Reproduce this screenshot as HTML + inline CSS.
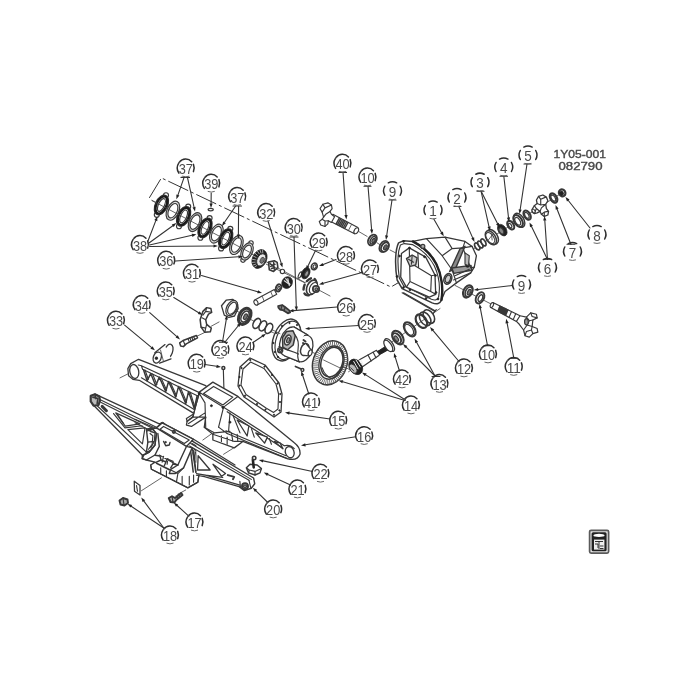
<!DOCTYPE html>
<html><head><meta charset="utf-8"><title>1Y05-001</title>
<style>
html,body{margin:0;padding:0;background:#fff;}
body{width:700px;height:700px;overflow:hidden;font-family:"Liberation Sans",sans-serif;}
svg{display:block;filter:blur(.35px)}
path,ellipse,circle,rect,line,polygon,polyline{vector-effect:non-scaling-stroke}
.p{fill:#fff;stroke:#383838;stroke-width:1.15;stroke-linejoin:round;stroke-linecap:round}
.n{fill:none;stroke:#383838;stroke-width:1.15;stroke-linejoin:round;stroke-linecap:round}
.t{fill:none;stroke:#4a4a4a;stroke-width:.85;stroke-linejoin:round;stroke-linecap:round}
.k{fill:none;stroke:#1a1a1a;stroke-width:2.2;stroke-linejoin:round;stroke-linecap:round}
.kk{fill:#fff;stroke:#1a1a1a;stroke-width:2.4}
.d{fill:#222;stroke:#222;stroke-width:.8}
.g{fill:#bbb;stroke:#444;stroke-width:.8}
.ld{fill:none;stroke:#333;stroke-width:1.1;stroke-linecap:round}
.ah{fill:#222;stroke:none}
.lc{fill:none;stroke:#666;stroke-width:1;stroke-linecap:round}
.lcd{fill:none;stroke:#2e2e2e;stroke-width:1.5;stroke-linecap:round}
.lt{font-family:"Liberation Sans",sans-serif;font-size:14.1px;fill:#4a4a4a;text-anchor:middle}
.hd{font-family:"Liberation Sans",sans-serif;font-size:11.8px;font-weight:normal;fill:#484848;stroke:#484848;stroke-width:.4;text-anchor:middle}
.dd{fill:none;stroke:#333;stroke-width:1;stroke-dasharray:22 3 3 3}
</style></head><body>
<svg width="700" height="700" viewBox="0 0 700 700">
<rect width="700" height="700" fill="#fff"/>
<g id="parts">
<path d="M149.3 197.9L161.4 177.9L391 287L399.5 282" class="dd" />
<path d="M152 200.5L330 296" class="t" />
<circle cx="156.8" cy="214.8" r="2.5" class="p"/>
<circle cx="166.0" cy="195.2" r="2.5" class="p"/>
<ellipse cx="161.4" cy="205.0" rx="6.2" ry="10.5" transform="rotate(25 161.4 205.0)" class="p" />
<ellipse cx="161.4" cy="205.0" rx="4.9" ry="9.2" transform="rotate(25 161.4 205.0)" class="kk" />
<ellipse cx="161.4" cy="205.0" rx="3.0000000000000004" ry="6.799999999999999" transform="rotate(25 161.4 205.0)" class="p" />
<ellipse cx="172.9" cy="210.7" rx="5.9" ry="10.1" transform="rotate(25 172.9 210.7)" class="p" style="fill:#ddd"/>
<ellipse cx="172.9" cy="210.7" rx="4.2" ry="7.699999999999999" transform="rotate(25 172.9 210.7)" class="p" />
<circle cx="179.0" cy="226.2" r="2.5" class="p"/>
<circle cx="188.2" cy="206.6" r="2.5" class="p"/>
<ellipse cx="183.6" cy="216.4" rx="6.2" ry="10.5" transform="rotate(25 183.6 216.4)" class="p" />
<ellipse cx="183.6" cy="216.4" rx="4.9" ry="9.2" transform="rotate(25 183.6 216.4)" class="kk" />
<ellipse cx="183.6" cy="216.4" rx="3.0000000000000004" ry="6.799999999999999" transform="rotate(25 183.6 216.4)" class="p" />
<ellipse cx="195.0" cy="222.1" rx="5.9" ry="10.1" transform="rotate(25 195.0 222.1)" class="p" style="fill:#bbb"/>
<ellipse cx="195.0" cy="222.1" rx="4.2" ry="7.699999999999999" transform="rotate(25 195.0 222.1)" class="p" />
<circle cx="200.4" cy="237.7" r="2.5" class="p"/>
<circle cx="209.6" cy="218.1" r="2.5" class="p"/>
<ellipse cx="205.0" cy="227.9" rx="6.2" ry="10.5" transform="rotate(25 205.0 227.9)" class="p" />
<ellipse cx="205.0" cy="227.9" rx="4.9" ry="9.2" transform="rotate(25 205.0 227.9)" class="kk" />
<ellipse cx="205.0" cy="227.9" rx="3.0000000000000004" ry="6.799999999999999" transform="rotate(25 205.0 227.9)" class="p" />
<ellipse cx="216.4" cy="233.6" rx="5.9" ry="10.1" transform="rotate(25 216.4 233.6)" class="p" style="fill:#ddd"/>
<ellipse cx="216.4" cy="233.6" rx="4.2" ry="7.699999999999999" transform="rotate(25 216.4 233.6)" class="p" />
<circle cx="221.1" cy="248.4" r="2.5" class="p"/>
<circle cx="230.3" cy="228.8" r="2.5" class="p"/>
<ellipse cx="225.7" cy="238.6" rx="6.2" ry="10.5" transform="rotate(25 225.7 238.6)" class="p" />
<ellipse cx="225.7" cy="238.6" rx="4.9" ry="9.2" transform="rotate(25 225.7 238.6)" class="kk" />
<ellipse cx="225.7" cy="238.6" rx="3.0000000000000004" ry="6.799999999999999" transform="rotate(25 225.7 238.6)" class="p" />
<ellipse cx="236.4" cy="245.0" rx="5.9" ry="10.1" transform="rotate(25 236.4 245.0)" class="p" style="fill:#ddd"/>
<ellipse cx="236.4" cy="245.0" rx="4.2" ry="7.699999999999999" transform="rotate(25 236.4 245.0)" class="p" />
<circle cx="243.0" cy="260.1" r="2.2" class="p"/>
<circle cx="251.0" cy="242.9" r="2.2" class="p"/>
<ellipse cx="247.0" cy="251.5" rx="5.4" ry="9.2" transform="rotate(25 247.0 251.5)" class="p" style="fill:#ddd"/>
<ellipse cx="247.0" cy="251.5" rx="3.7" ry="6.799999999999999" transform="rotate(25 247.0 251.5)" class="p" />
<ellipse cx="259.5" cy="259.0" rx="7.0" ry="9.8" transform="rotate(25 259.5 259.0)" class="d" />
<ellipse cx="261.3" cy="259.9" rx="4.2" ry="6.4" transform="rotate(25 261.3 259.9)" class="p" style="fill:#e8e8e8;stroke-width:1"/>
<ellipse cx="262.2" cy="260.3" rx="2.0" ry="3.2" transform="rotate(25 262.2 260.3)" class="p" style="fill:#777;stroke-width:.8"/>
<path d="M254.3 267.2L257.1 265.4" style="stroke:#ddd;stroke-width:.7;fill:none"/>
<path d="M252.7 265.2L256.1 264.0" style="stroke:#ddd;stroke-width:.7;fill:none"/>
<path d="M252.0 262.4L255.6 262.1" style="stroke:#ddd;stroke-width:.7;fill:none"/>
<path d="M252.1 259.3L255.8 259.9" style="stroke:#ddd;stroke-width:.7;fill:none"/>
<path d="M253.2 256.0L256.5 257.7" style="stroke:#ddd;stroke-width:.7;fill:none"/>
<path d="M255.0 253.2L257.8 255.6" style="stroke:#ddd;stroke-width:.7;fill:none"/>
<path d="M257.3 251.0L259.4 254.1" style="stroke:#ddd;stroke-width:.7;fill:none"/>
<path d="M259.9 249.8L261.1 253.2" style="stroke:#ddd;stroke-width:.7;fill:none"/>
<path d="M262.5 249.7L262.8 253.1" style="stroke:#ddd;stroke-width:.7;fill:none"/>
<ellipse cx="210.7" cy="209.6" rx="2.6" ry="1.3" transform="rotate(0 210.7 209.6)" class="p" />
<path d="M152 200.5L252 253.5" class="t" />
<g transform="translate(245 245) scale(0.14286)">
<path d="M150 135L420 265" class="t"/>
<path d="M165 120l40 -10l20 12l5 35l-30 28l-30 -12z" class="p" style="stroke-width:1.6"/>
<path d="M175 130l25 20M180 150l30 -15M185 165l25 -8M200 120l5 50" class="n" style="stroke-width:1.5"/>
<circle cx="262" cy="185" r="15" class="p"/>
<ellipse cx="385" cy="210" rx="9" ry="24" transform="rotate(25 385 210)" class="p"/>
<ellipse cx="425" cy="197" rx="27" ry="42" transform="rotate(25 425 197)" class="d"/>
<ellipse cx="432" cy="200" rx="12" ry="22" transform="rotate(25 432 200)" class="p" style="fill:#999"/>
<ellipse cx="485" cy="150" rx="20" ry="24" transform="rotate(25 485 150)" class="p" style="stroke-width:1.6"/>
<ellipse cx="487" cy="151" rx="10" ry="13" transform="rotate(25 487 151)" class="p"/>
<ellipse cx="455" cy="292" rx="40" ry="64" transform="rotate(25 455 292)" class="p" style="stroke-width:2.4;stroke-dasharray:5 4"/>
<ellipse cx="468" cy="297" rx="34" ry="54" transform="rotate(25 468 297)" class="p" style="stroke-width:1.6"/>
<ellipse cx="480" cy="302" rx="26" ry="42" transform="rotate(25 480 302)" class="p"/>
<circle cx="497" cy="308" r="22" class="p" style="stroke-width:1.8"/>
<circle cx="499" cy="309" r="10" class="p" style="fill:#888"/>
<ellipse cx="295" cy="263" rx="36" ry="42" transform="rotate(25 295 263)" class="d"/>
<path d="M275 250l35 25M285 235l30 40M300 235l10 50" class="n" style="stroke:#ddd"/>
<ellipse cx="235" cy="300" rx="18" ry="26" transform="rotate(25 235 300)" class="p" style="stroke-width:1.9"/>
<ellipse cx="237" cy="301" rx="7" ry="12" transform="rotate(25 237 301)" class="p"/>
<path d="M68 385L205 312L222 345L85 420Z" class="p"/>
<ellipse cx="77" cy="403" rx="13" ry="19" transform="rotate(-28 77 403)" class="p"/>
<path d="M120 358l14 34M180 326l14 34" class="t"/>
<path d="M232 428l28 -8l20 14l28 22l8 16l-16 6l-30 -20l-24 -6l-12 -14z" class="p" style="stroke-width:1.8;fill:#888"/>
<path d="M258 424l-6 28M282 436l-10 24" class="n"/>
</g>
<g transform="translate(310 185) scale(0.14286)">
<path d="M340 325L400 360M470 405L490 418M560 455L605 478" class="t"/>
<path d="M160 205L335 298L312 342L145 255Z" class="p"/>
<ellipse cx="324" cy="320" rx="14" ry="23" transform="rotate(31 324 320)" class="p"/>
<path d="M205 232l-22 40M215 237l-22 40M225 243l-22 40M235 248l-22 40M245 253l-22 40M255 259l-22 40M265 264l-22 40" class="n" style="stroke-width:1.4"/>
<path d="M290 278l-22 42" class="t"/>
<path d="M70 165L90 135L125 125L150 140L155 165L140 185L150 205L172 222L150 262L128 250L125 272L105 290L75 280L65 255L85 240L95 225L85 190Z" class="p"/>
<path d="M90 135l15 25l45 -20M105 160l-20 30M85 240l20 12l23 -2M105 252l0 38M140 185l-30 20l-15 20" class="n"/>
<ellipse cx="437" cy="385" rx="27" ry="40" transform="rotate(31 437 385)" class="p" style="stroke-width:1.9"/>
<ellipse cx="441" cy="387" rx="17" ry="28" transform="rotate(31 441 387)" class="p" style="stroke-width:1.4"/>
<ellipse cx="444" cy="389" rx="9" ry="16" transform="rotate(31 444 389)" class="p" style="fill:#777"/>
<ellipse cx="517" cy="430" rx="28" ry="42" transform="rotate(31 517 430)" class="p" style="stroke-width:1.6"/>
<ellipse cx="525" cy="434" rx="24" ry="36" transform="rotate(31 525 434)" class="p" style="stroke-width:1.9"/>
<ellipse cx="528" cy="436" rx="11" ry="19" transform="rotate(31 528 436)" class="p" style="fill:#666"/>
</g>
<g transform="translate(470 170) scale(0.14286)">
<path d="M20 555L660 150" class="t"/>
<ellipse cx="50" cy="535" rx="14" ry="27" transform="rotate(-32 50 535)" class="p" style="stroke-width:1.7"/>
<ellipse cx="72" cy="521" rx="14" ry="27" transform="rotate(-32 72 521)" class="p" style="stroke-width:1.7"/>
<ellipse cx="94" cy="507" rx="14" ry="27" transform="rotate(-32 94 507)" class="p" style="stroke-width:1.7"/>
<ellipse cx="158" cy="468" rx="34" ry="56" transform="rotate(-32 158 468)" class="p" style="stroke-width:1.5"/>
<ellipse cx="146" cy="474" rx="32" ry="54" transform="rotate(-32 146 474)" class="p" style="stroke-width:1.5"/>
<ellipse cx="142" cy="476" rx="24" ry="43" transform="rotate(-32 142 476)" class="p"/>
<path d="M120 500l40 -50M150 450l5 40" class="t"/>
<ellipse cx="226" cy="421" rx="28" ry="44" transform="rotate(-32 226 421)" class="d"/>
<ellipse cx="219" cy="426" rx="14" ry="24" transform="rotate(-32 219 426)" class="p" style="fill:#888"/>
<ellipse cx="285" cy="386" rx="20" ry="33" transform="rotate(-32 285 386)" class="p" style="stroke-width:2.1"/>
<ellipse cx="281" cy="389" rx="9" ry="17" transform="rotate(-32 281 389)" class="p"/>
<ellipse cx="344" cy="352" rx="33" ry="54" transform="rotate(-32 344 352)" class="p" style="stroke-width:1.4"/>
<ellipse cx="337" cy="357" rx="27" ry="46" transform="rotate(-32 337 357)" class="p" style="stroke-width:2.1"/>
<ellipse cx="334" cy="359" rx="16" ry="30" transform="rotate(-32 334 359)" class="p"/>
<ellipse cx="400" cy="316" rx="21" ry="35" transform="rotate(-32 400 316)" class="p" style="stroke-width:2.1"/>
<ellipse cx="398" cy="317" rx="12" ry="23" transform="rotate(-32 398 317)" class="p"/>
<path d="M435 275L450 250L470 235L465 210L480 185L510 175L535 190L545 215L530 240L535 270L550 290L545 315L520 325L500 310L490 290L470 300L450 305L435 295Z" class="p" style="stroke-width:1.3"/>
<path d="M470 235l25 10l35 -5M480 185l15 20l35 -15M495 205l0 40M490 290l10 -25l30 -25M500 310l20 -15l25 -5M520 295l0 30M450 250l15 20l-15 35M465 270l25 20" class="n"/>
<ellipse cx="445" cy="287" rx="9" ry="15" transform="rotate(-32 445 287)" class="p"/>
<ellipse cx="585" cy="196" rx="22" ry="35" transform="rotate(-32 585 196)" class="p" style="stroke-width:2.2"/>
<ellipse cx="583" cy="197" rx="13" ry="23" transform="rotate(-32 583 197)" class="p"/>
<ellipse cx="645" cy="160" rx="22" ry="25" transform="rotate(-32 645 160)" class="p" style="stroke-width:2.2"/>
<ellipse cx="641" cy="163" rx="13" ry="15" transform="rotate(-32 641 163)" class="d"/>
</g>
<g transform="translate(455 270) scale(0.14286)">
<path d="M0 108L260 242" class="t"/>
<ellipse cx="90" cy="150" rx="30" ry="46" transform="rotate(27 90 150)" class="p" style="stroke-width:2.1"/>
<ellipse cx="96" cy="153" rx="22" ry="36" transform="rotate(27 96 153)" class="p" style="stroke-width:1.6"/>
<ellipse cx="99" cy="155" rx="11" ry="20" transform="rotate(27 99 155)" class="p" style="fill:#777"/>
<ellipse cx="175" cy="195" rx="27" ry="42" transform="rotate(27 175 195)" class="p" style="stroke-width:1.9"/>
<ellipse cx="178" cy="197" rx="14" ry="25" transform="rotate(27 178 197)" class="p" style="stroke-width:1.4"/>
<path d="M265 228L455 320L500 330L530 300L570 310L575 335L545 350L540 395L575 410L580 435L545 445L520 470L490 460L480 420L450 380L430 360L250 262Z" class="p" style="stroke-width:1.2"/>
<ellipse cx="258" cy="246" rx="10" ry="18" transform="rotate(27 258 246)" class="p"/>
<path d="M315 253l-14 36M324 257l-14 36M333 262l-14 36M342 266l-14 36M351 270l-14 36M360 275l-14 36M369 279l-14 36" class="n" style="stroke-width:1.6"/>
<path d="M395 292l-16 38M425 306l-16 38M455 320l-25 40" class="n"/>
<path d="M500 330l20 25l25 -5M520 355l-15 30l-25 35M505 385l35 10M530 300l10 25l35 10M545 445l-10 -25l5 -25M490 460l10 -30l35 -10" class="n"/>
<ellipse cx="500" cy="362" rx="13" ry="22" class="p" style="fill:#999"/>
</g>
<g transform="translate(385 220) scale(0.14286)">
<path d="M195 150L290 130L420 120L560 150L610 185L640 250L625 330L600 370L500 440L420 500L395 560L300 400Z" class="p" style="stroke-width:1.3"/>
<path d="M526 200L560 184L492 344L452 360Z" class="p" style="fill:#8a8a8a;stroke-width:1.4"/>
<path d="M468 336L602 318L608 352L482 374Z" class="p" style="fill:#9a9a9a;stroke-width:1.4"/>
<circle cx="578" cy="318" r="13" class="d"/>
<path d="M560 150L545 195L610 185M545 195L600 335L625 330M290 130L400 250L470 350L500 440M420 120L470 200L545 195M400 250L470 200" class="n"/>
<path d="M560 230L590 250L585 320L560 310Z" class="p" style="fill:#bbb"/>
<ellipse cx="440" cy="412" rx="26" ry="38" transform="rotate(20 440 412)" class="p" style="stroke-width:1.6"/>
<ellipse cx="440" cy="412" rx="17" ry="27" transform="rotate(20 440 412)" class="p" style="fill:#ccc"/>
<path d="M480 420L600 370M490 390L590 345" class="n"/>
<path d="M95 160C75 200 65 300 85 420L120 480L330 580Q380 600 395 560C410 480 395 380 360 310C330 250 280 195 195 150L130 145Z" class="p" style="stroke-width:1.5"/>
<path d="M195 150C280 195 330 250 360 310C395 380 410 480 395 560" class="n" style="stroke-width:2.4;stroke:#222"/>
<path d="M108 175C92 215 85 300 100 405L130 460L325 555Q365 570 375 540C388 470 375 385 345 320C315 262 270 215 192 172L135 165Z" class="n"/>
<path d="M115 235L170 195L285 260L350 385L355 520L310 540L150 470L110 400Z" class="p" style="stroke-width:1.3"/>
<path d="M170 195L175 430L150 470M175 430L320 500L355 520M320 500L325 390L350 385M175 300L325 390M230 230L235 330" class="n"/>
<path d="M150 270l40 -25l35 20l-10 50l-40 10z" class="p" style="fill:#ccc;stroke-width:1.4"/>
<path d="M165 275l35 20M190 250l-5 60" class="n"/>
<path d="M120 510L350 640L360 625" class="n" style="stroke-dasharray:40 6"/>
<circle cx="171.5" cy="196" r="6.5" class="d"/><circle cx="101.5" cy="252" r="6.5" class="d"/><circle cx="276.5" cy="257.6" r="6.5" class="d"/><circle cx="84" cy="395.5" r="6.5" class="d"/><circle cx="129.5" cy="472.5" r="6.5" class="d"/><circle cx="175" cy="488.6" r="6.5" class="d"/><circle cx="353.5" cy="388.5" r="6.5" class="d"/><circle cx="287" cy="549.5" r="6.5" class="d"/><circle cx="371" cy="553" r="6.5" class="d"/><circle cx="357" cy="507.5" r="6.5" class="d"/><circle cx="130" cy="150" r="6.5" class="d"/>
<circle cx="265" cy="185" r="14" class="p" style="fill:#aaa"/>
</g>
<g transform="translate(340 290) scale(0.14286)">
<path d="M60 572L700 130" class="t"/>
<path d="M445 20L665 145L650 170" class="n"/>
<ellipse cx="622" cy="186" rx="34" ry="52" transform="rotate(-34 622 186)" class="p" style="stroke-width:1.6"/>
<ellipse cx="596" cy="202" rx="34" ry="52" transform="rotate(-34 596 202)" class="n" style="stroke-width:1.6"/>
<ellipse cx="570" cy="218" rx="34" ry="52" transform="rotate(-34 570 218)" class="n" style="stroke-width:2.2"/>
<ellipse cx="488" cy="275" rx="33" ry="55" transform="rotate(-34 488 275)" class="p" style="stroke-width:2.2"/>
<ellipse cx="484" cy="278" rx="24" ry="43" transform="rotate(-34 484 278)" class="p"/>
<ellipse cx="405" cy="333" rx="33" ry="53" transform="rotate(-34 405 333)" class="p" style="stroke-width:2.1"/>
<ellipse cx="398" cy="338" rx="24" ry="40" transform="rotate(-34 398 338)" class="p" style="stroke-width:1.9"/>
<ellipse cx="394" cy="341" rx="12" ry="22" transform="rotate(-34 394 341)" class="p" style="fill:#888"/>
<path d="M120 497L256 422L262 432L332 392L346 412L276 452L272 458L150 542Z" class="p" style="stroke-width:1.2"/>
<path d="M262 432L332 392L346 412L276 452Z" class="d"/>
<path d="M196 455l22 42M232 436l20 38" class="n"/>
<ellipse cx="347" cy="385" rx="24" ry="52" transform="rotate(-34 347 385)" class="p" style="stroke-width:1.3"/>
<ellipse cx="338" cy="391" rx="22" ry="46" transform="rotate(-34 338 391)" class="p" style="stroke-width:1.3"/>
<ellipse cx="110" cy="538" rx="44" ry="58" transform="rotate(-34 110 538)" class="d"/>
<ellipse cx="92" cy="551" rx="22" ry="36" transform="rotate(-34 92 551)" class="p" style="stroke-width:1;fill:#bbb"/>
<path d="M112 490l30 48M130 486l26 40M96 500l30 52M146 492l16 26" class="n" style="stroke:#eee;stroke-width:1"/>
<path d="M75 545l22 22" class="n" style="stroke-width:1"/>
</g>
<g transform="translate(265 310) scale(0.10000)">
<ellipse cx="215" cy="300" rx="132" ry="217" transform="rotate(19.5 215 300)" class="p" style="stroke-width:1.4"/>
<ellipse cx="230" cy="304" rx="118" ry="200" transform="rotate(19.5 230 304)" class="p"/>
<path d="M295 172L432 252L338 518L195 458Z" class="p" style="stroke:none"/>
<ellipse cx="245" cy="315" rx="92" ry="150" transform="rotate(19.5 245 315)" class="p" style="stroke-width:1.3"/>
<path d="M290 170L428 250M200 460L345 518" class="n" style="stroke-width:1.3"/>
<path d="M290 172L430 252L345 518L200 458Z" class="p" style="stroke:none"/>
<ellipse cx="385" cy="385" rx="88" ry="138" transform="rotate(19.5 385 385)" class="p" style="stroke-width:1.3"/>
<path d="M290 172L400 240L360 300L330 400L340 516L200 458L160 380L170 280L220 200Z" class="p" style="stroke:none"/>
<path d="M290 170L428 250M200 460L345 518" class="n" style="stroke-width:1.3"/>
<path d="M300 250Q345 300 330 400Q320 470 340 515" class="n"/>
<path d="M175 275L215 215L280 208L302 258L282 350L225 398L178 372Z" class="p" style="fill:#b5b5b5;stroke-width:1.5"/>
<ellipse cx="228" cy="300" rx="30" ry="52" transform="rotate(19.5 228 300)" class="p" style="stroke-width:1.5;fill:#e8e8e8"/>
<ellipse cx="232" cy="302" rx="14" ry="26" transform="rotate(19.5 232 302)" class="p" style="fill:#999"/>
<path d="M140 365L225 398L300 425L335 440" class="n" style="stroke-width:1.3"/>
<circle cx="152" cy="402" r="24" class="p" style="stroke-width:1.6"/>
<circle cx="154" cy="403" r="12" class="p" style="fill:#aaa"/>
<ellipse cx="398" cy="395" rx="40" ry="62" transform="rotate(19.5 398 395)" class="p" style="stroke-width:1.5"/>
<path d="M405 338L465 400L440 458L385 452Z" class="p" style="stroke:none"/>
<path d="M410 337L462 398M388 454L440 458" class="n" style="stroke-width:1.3"/>
<ellipse cx="452" cy="428" rx="18" ry="31" transform="rotate(19.5 452 428)" class="p" style="stroke-width:1.3"/>
<path d="M385 300l20 15M380 330l12 8" class="n" style="stroke-width:2"/>
<circle cx="245" cy="130" r="7" class="d"/><circle cx="320" cy="150" r="7" class="d"/><circle cx="112" cy="230" r="7" class="d"/><circle cx="84" cy="330" r="7" class="d"/><circle cx="98" cy="420" r="7" class="d"/><circle cx="130" cy="470" r="7" class="d"/><circle cx="170" cy="160" r="7" class="d"/>
</g>
<g transform="translate(265 305) scale(0.14286)">
<path d="M0 165L60 195M330 330L600 455" class="t"/>
<ellipse cx="455" cy="405" rx="119" ry="157" transform="rotate(18 455 405)" class="p" style="stroke-width:1.5"/>
<ellipse cx="458" cy="405" rx="101" ry="138" transform="rotate(18 458 405)" class="n" style="stroke-width:5;stroke-dasharray:.8 1.1;stroke:#5a5a5a;stroke-linecap:butt"/>
<ellipse cx="465" cy="403" rx="84" ry="119" transform="rotate(18 465 403)" class="p" style="stroke-width:1.4"/>
<ellipse cx="468" cy="400" rx="74" ry="106" transform="rotate(18 468 400)" class="p" style="stroke-width:1.5"/>
<path d="M400 440Q420 500 470 515Q520 490 540 420" class="n"/>
<path d="M410 385L545 450" class="t"/>
<path d="M213 430L262 452" class="n" style="stroke-width:1.6"/>
<circle cx="262" cy="455" r="10" class="p" style="stroke-width:1.4"/>
</g>
<g transform="translate(150 290) scale(0.18570)">
<path d="M330 195L372 172M250 250L292 230M455 108L480 120M545 160L560 168M660 215L700 235" class="t"/>
<path d="M385 85L410 55L445 50L470 70L475 100L455 140L425 148L400 135Z" class="p" style="stroke-width:1.3"/>
<ellipse cx="440" cy="97" rx="27" ry="44" transform="rotate(28 440 97)" class="p" style="stroke-width:1.3"/>
<ellipse cx="442" cy="98" rx="20" ry="35" transform="rotate(28 442 98)" class="p"/>
<ellipse cx="510" cy="142" rx="30" ry="46" transform="rotate(28 510 142)" class="p" style="stroke-width:3"/>
<ellipse cx="512" cy="143" rx="19" ry="32" transform="rotate(28 512 143)" class="p" style="stroke-width:1.6"/>
<ellipse cx="514" cy="144" rx="9" ry="16" transform="rotate(28 514 144)" class="p" style="fill:#777"/>
<ellipse cx="575" cy="180" rx="18" ry="29" transform="rotate(28 575 180)" class="p" style="stroke-width:1.6"/>
<ellipse cx="608" cy="193" rx="18" ry="29" transform="rotate(28 608 193)" class="p" style="stroke-width:1.6"/>
<ellipse cx="640" cy="207" rx="18" ry="29" transform="rotate(28 640 207)" class="p" style="stroke-width:1.6"/>
<path d="M285 115L305 95L328 100L332 120L315 130L300 160L305 185L330 205L325 225L295 228L275 200L270 160Z" class="p" style="stroke-width:1.5"/>
<path d="M305 95L300 115L285 135M300 115L332 120M275 200L300 205L305 185M300 205L295 228M280 150L300 160" class="n"/>
<path d="M160 285L178 272L250 245L256 258L195 290L180 305L165 302Z" class="p" style="stroke-width:1.5"/>
<path d="M180 275l8 20M205 262l6 16M215 258l6 16M225 254l6 16M235 250l6 16" class="n"/>
<circle cx="395" cy="420" r="8" class="p" style="stroke-width:1.5"/>
<path d="M395 430L400 600" class="n"/>
</g>
<ellipse cx="168.3" cy="351.6" rx="4.2" ry="7.8" transform="rotate(20 168.3 351.6)" class="p" style="stroke-width:1.3"/>
<path d="M155 352.6L164.6 345L171 358.6L159.8 363Z" class="p" style="stroke:none"/>
<path d="M154.8 352.8L165 344.6M159.6 363.2L171 358.8" class="n" style="stroke-width:1.3"/>
<ellipse cx="157.2" cy="357.6" rx="3.9" ry="5.7" transform="rotate(20 157.2 357.6)" class="p" style="stroke-width:1.3"/>
<circle cx="156.4" cy="358.2" r="1.3" class="d"/>
<path d="M160.5 350L163.5 361.5" class="t" />
<path d="M240 367L250 358L265 365L279 383L282 394L281 412L274 417L265 411L244 397L238 386Z" class="p" style="stroke-width:1.3"/>
<path d="M243 369L250.6 362L264 368.4L276 384L278.6 394L278 409L273.6 412.4L266 408L246 394.4L241 385Z" class="p" />
<circle cx="241.5" cy="368" r="0.7" class="d"/>
<circle cx="250.3" cy="360" r="0.7" class="d"/>
<circle cx="264.5" cy="366.6" r="0.7" class="d"/>
<circle cx="277.5" cy="383.5" r="0.7" class="d"/>
<circle cx="280.3" cy="394" r="0.7" class="d"/>
<circle cx="279.5" cy="410.5" r="0.7" class="d"/>
<circle cx="274" cy="414.8" r="0.7" class="d"/>
<circle cx="265.5" cy="409.6" r="0.7" class="d"/>
<circle cx="245" cy="395.8" r="0.7" class="d"/>
<circle cx="239.6" cy="385.6" r="0.7" class="d"/>
<circle cx="257" cy="404" r="0.7" class="d"/>
<circle cx="239.5" cy="377" r="0.7" class="d"/>
<circle cx="272" cy="375" r="0.7" class="d"/>
<circle cx="280" cy="402" r="0.7" class="d"/>
<g transform="translate(120 350) scale(0.14286)">
<path d="M0 195L70 160" class="t"/>
<path d="M130 65L600 250L640 300L560 470L470 500L465 480L520 445L135 212L90 205L60 180L55 130L75 95Z" class="p" style="stroke-width:1.3"/>
<ellipse cx="100" cy="150" rx="31" ry="49" transform="rotate(-12 100 150)" class="p" style="stroke-width:1.3"/>
<path d="M150 110L560 300M150 195L525 420M128 105L150 110L158 135M158 135L545 322" class="n"/>
<path d="M165 140L190 215L215 165L250 250L275 190L320 290L340 220L390 330L410 255L460 375L480 290L520 410L540 320" class="n" style="stroke-width:1.5"/>
<path d="M175 140L198 205M228 168L258 242M288 195L326 282M352 226L396 322M422 260L466 366M492 296L524 400" class="n"/>
<path d="M560 300L540 440L470 500M600 380L560 470M490 480L560 470" class="n"/>
</g>
<g transform="translate(180 370) scale(0.14286)">
<path d="M160 490L230 440M305 590L400 530" class="t"/>
<path d="M135 155L230 85L405 185L800 510Q845 545 840 590Q820 640 750 620L440 500L380 545L230 490L230 450L170 400L180 330L80 395L45 385L50 360L90 330Z" class="p" style="stroke-width:1.3"/>
<path d="M165 165L235 115L370 190L300 245Z" class="p"/>
<path d="M135 155L305 260L405 185M305 260L270 400M175 230L180 400M175 230L135 165M90 330L180 330M60 375L175 300M135 165L110 250L90 330" class="n"/>
<path d="M170 400L240 440L350 430M230 450L380 500L440 500M240 440L230 450M290 460l0 40M330 470l0 50M360 440l10 60M400 450l5 50M270 400L330 445" class="n"/>
<path d="M305 260L730 530M330 445L750 620M322 425L742 600M330 292L720 548" class="n"/>
<path d="M400 350L470 462L482 392ZM530 440L592 512L612 470ZM660 500L720 552L702 512Z" class="p" style="stroke-width:1.3"/>
<path d="M350 300L340 430M372 320L420 440M500 410L520 470M625 480L640 520" class="n"/>
<ellipse cx="768" cy="575" rx="30" ry="40" transform="rotate(-20 768 575)" class="p" style="stroke-width:1.3"/>
<path d="M730 530Q770 520 800 550" class="n"/>
<circle cx="220" cy="250" r="7" class="d"/><circle cx="300" cy="262" r="7" class="d"/><circle cx="135" cy="165" r="7" class="d"/><circle cx="350" cy="365" r="7" class="d"/>
</g>
<g transform="translate(85 385) scale(0.14286)">
<path d="M90 72L520 272L545 262L560 275L520 330L510 400L480 450L430 470L415 505L400 490L60 142L40 110L45 80L70 65Z" class="p" style="stroke-width:1.3"/>
<path d="M100 100L500 295M110 120L490 312M85 145L430 470" class="n"/>
<path d="M40 75L70 65L100 80L105 110L95 140L60 145L40 115Z" class="p" style="stroke-width:2.2;fill:#bbb"/>
<path d="M55 85L90 95L85 130M70 65L75 95" class="n" style="stroke-width:1.6"/>
<path d="M120 150L150 180" class="n" style="stroke-width:3"/>
<path d="M215 195L385 272L282 288Z" class="p"/>
<path d="M300 312L420 300L402 412Z" class="p"/>
<path d="M200 200L280 300L400 285M230 210L270 270" class="n"/>
<path d="M430 310L470 300L520 330L510 400L480 450L430 470L440 400Z" class="p" style="stroke-width:1.4"/>
<path d="M455 325L490 335L485 395L460 440M440 400L485 395" class="n"/>
<circle cx="415" cy="500" r="14" class="p" style="stroke-width:1.4"/>
</g>
<g transform="translate(135 405) scale(0.14286)">
<path d="M45 600L185 510M300 625L355 595" class="t"/>
<path d="M150 160L190 125L410 240L700 420L700 520L440 480L450 470L440 540L370 580L115 450L110 420L140 400L80 385L50 375L60 350L100 330L140 280L150 200L120 165L90 180Z" class="p" style="stroke:none"/>
<path d="M700 420L410 240L190 125L150 160L90 180L120 165L150 200L140 280L100 330L60 350L50 375L80 385L140 400L110 420L115 450L370 580L440 540L450 470L440 480L700 520" class="n" style="stroke-width:1.3"/>
<path d="M150 160L190 125L410 240L360 290Z" class="p" style="stroke-width:1.4"/>
<path d="M175 170L200 150L380 245L345 270Z" class="p"/>
<path d="M0 100L150 165M0 125L120 185" class="n"/>
<path d="M90 180L120 165L150 200L140 280L100 330L60 350L50 375L80 385L140 350L170 290L160 200" class="n" style="stroke-width:1.4"/>
<path d="M105 200L125 215L120 275L95 310" class="n"/>
<path d="M360 290L300 420L250 450L240 480L280 480L340 440L400 300Z" class="p" style="stroke-width:1.4"/>
<path d="M400 300L430 470L520 470L470 350Z" class="p"/>
<path d="M110 420L115 450L370 580L440 540L450 470M140 400L300 480L340 440M300 480L290 540M150 410L240 455M170 350L260 400L300 420M200 360L190 400M230 375L225 415M180 440l0 40M220 460l0 40M330 500l0 55M380 500l0 60M410 490l0 50" class="n"/>
<path d="M400 270L700 450M440 350L520 440L560 410L640 490M440 480L700 520M470 350L560 410M560 410L600 500" class="n"/>
<path d="M410 320L420 400M425 330L435 400" class="n" style="stroke-width:1.6"/>
<circle cx="272" cy="188" r="9" class="p" style="stroke-width:1.6;fill:#777"/><circle cx="215" cy="260" r="5" class="d"/>
<path d="M140 352L175 357L182 385L217 399L224 378L266 395L266 413L300 420M182 385L150 400M217 399L205 425M266 413L250 440" class="n" style="stroke-width:1.4"/>
<path d="M200 255L215 285L240 280L245 262" class="n" style="stroke-width:1.4"/>
</g>
<g transform="translate(185 430) scale(0.11429)">
<path d="M100 118L600 420L610 470L580 510L520 530L480 500L180 400L100 386Z" class="p" style="stroke:none"/>
<path d="M60 95L600 420L610 470L580 510L520 530L480 500" class="n" style="stroke-width:1.4"/>
<path d="M40 140L560 440M50 118L580 432" class="n"/>
<path d="M100 382L180 395L480 482M100 396L170 408L480 497M180 395L330 415" class="n" style="stroke-width:1.2"/>
<path d="M115 225L220 350L110 350ZM245 300L355 380L320 405Z" class="p" style="stroke-width:1.3"/>
<path d="M70 200L95 370M50 190L72 368" class="n" style="stroke-width:1.5"/>
<path d="M375 395L430 410L420 430" class="n" style="stroke-width:2"/>
<path d="M560 440L575 505M480 450L485 500" class="n"/>
<circle cx="525" cy="493" r="26" class="p" style="stroke-width:2"/>
<circle cx="525" cy="493" r="13" class="p" style="fill:#999"/>
</g>
<g transform="translate(200 400) scale(0.14286)">
<path d="M325 475L350 450L400 455L430 480L420 510L385 525L340 510Z" class="p" style="stroke-width:1.4"/>
<path d="M325 475L345 490L385 500L430 480M345 490L340 510M385 500L385 525" class="n"/>
<path d="M370 418L376 472" class="n" style="stroke-width:2.6;stroke:#222"/>
<circle cx="379" cy="406" r="12" class="p" style="stroke-width:1.6"/>
</g>
<g transform="translate(100 420) scale(0.25000)">
<path d="M137 245L160 262L160 300L138 285Z" class="p" style="stroke-width:1.3"/>
<path d="M146 262L150 285" class="n"/>
<path d="M78 322L92 312L110 318L112 332L98 342L82 338Z" class="p" style="stroke-width:1.9;fill:#aaa"/>
<path d="M92 312L96 340" class="n"/>
<path d="M275 312L288 305L300 312L325 292L330 300L305 320L298 330L282 328Z" class="p" style="stroke-width:1.9;fill:#aaa"/>
<path d="M288 305L292 328M305 303l6 10M313 297l6 10" class="n"/>
</g>
</g>
<g id="leaders">
<path d="M343.0 172.0L346.0 215.0" class="ld"/>
<path d="M346.3 219.5L344.4 215.1L347.6 214.9Z" class="ah"/>
<path d="M294.0 237.0L296.3 306.5" class="ld"/>
<path d="M296.5 311.0L294.7 306.6L297.9 306.4Z" class="ah"/>
<path d="M368.0 186.0L371.6 229.5" class="ld"/>
<path d="M372.0 234.0L370.0 229.6L373.2 229.4Z" class="ah"/>
<path d="M392.0 200.0L386.7 235.5" class="ld"/>
<path d="M386.0 240.0L385.1 235.3L388.2 235.8Z" class="ah"/>
<path d="M268.0 221.0L281.2 263.2" class="ld"/>
<path d="M282.5 267.5L279.6 263.7L282.7 262.7Z" class="ah"/>
<path d="M315.5 250.5L308.0 266.0" class="ld"/>
<path d="M306.0 270.0L306.5 265.3L309.4 266.7Z" class="ah"/>
<path d="M336.0 259.5L323.2 264.4" class="ld"/>
<path d="M319.0 266.0L322.6 262.9L323.8 265.9Z" class="ah"/>
<path d="M362.0 272.5L323.3 283.3" class="ld"/>
<path d="M319.0 284.5L322.9 281.7L323.8 284.8Z" class="ah"/>
<path d="M337.0 307.0L293.5 310.6" class="ld"/>
<path d="M289.0 311.0L293.4 309.0L293.6 312.2Z" class="ah"/>
<path d="M433.8 219.0L441.5 232.4" class="ld"/>
<path d="M443.8 236.2L440.1 233.2L442.9 231.6Z" class="ah"/>
<path d="M458.8 206.5L472.7 237.9" class="ld"/>
<path d="M474.5 242.0L471.2 238.5L474.1 237.2Z" class="ah"/>
<path d="M481.0 191.0L489.0 226.6" class="ld"/>
<path d="M490.0 231.0L487.5 227.0L490.6 226.3Z" class="ah"/>
<path d="M481.0 191.0L497.5 223.5" class="ld"/>
<path d="M499.5 227.5L496.0 224.2L498.9 222.8Z" class="ah"/>
<path d="M503.8 176.0L508.5 217.5" class="ld"/>
<path d="M509.0 222.0L506.9 217.7L510.1 217.3Z" class="ah"/>
<path d="M527.0 164.0L520.2 209.5" class="ld"/>
<path d="M519.5 214.0L518.6 209.3L521.7 209.8Z" class="ah"/>
<path d="M547.5 259.5L531.5 226.5" class="ld"/>
<path d="M529.5 222.5L532.9 225.8L530.0 227.2Z" class="ah"/>
<path d="M547.5 259.5L544.8 220.5" class="ld"/>
<path d="M544.5 216.0L546.4 220.4L543.2 220.6Z" class="ah"/>
<path d="M512.5 285.5L478.2 289.5" class="ld"/>
<path d="M473.8 290.0L478.0 287.9L478.4 291.1Z" class="ah"/>
<path d="M590.0 228.0L568.3 200.5" class="ld"/>
<path d="M565.5 197.0L569.5 199.5L567.0 201.5Z" class="ah"/>
<path d="M571.0 244.5L557.1 209.2" class="ld"/>
<path d="M555.5 205.0L558.6 208.6L555.7 209.8Z" class="ah"/>
<path d="M124.6 325.1L151.4 347.4" class="ld"/>
<path d="M154.9 350.3L150.4 348.7L152.5 346.2Z" class="ah"/>
<path d="M149.7 312.6L176.6 336.4" class="ld"/>
<path d="M180.0 339.4L175.6 337.6L177.7 335.2Z" class="ah"/>
<path d="M173.8 297.5L198.7 312.7" class="ld"/>
<path d="M202.5 315.0L197.8 314.0L199.5 311.3Z" class="ah"/>
<path d="M222.5 342.0L226.3 319.4" class="ld"/>
<path d="M227.0 315.0L227.8 319.7L224.7 319.2Z" class="ah"/>
<path d="M225.0 342.0L238.1 326.0" class="ld"/>
<path d="M241.0 322.5L239.4 327.0L236.9 325.0Z" class="ah"/>
<path d="M205.0 364.5L216.6 366.3" class="ld"/>
<path d="M221.0 367.0L216.3 367.9L216.8 364.7Z" class="ah"/>
<path d="M358.8 325.5L309.5 328.5" class="ld"/>
<path d="M305.0 328.8L309.4 326.9L309.6 330.1Z" class="ah"/>
<path d="M253.0 342.5L262.3 336.3" class="ld"/>
<path d="M266.0 333.8L263.2 337.6L261.4 334.9Z" class="ah"/>
<path d="M308.8 394.0L302.7 375.5" class="ld"/>
<path d="M301.2 371.2L304.2 375.0L301.1 376.0Z" class="ah"/>
<path d="M330.0 419.0L289.5 413.1" class="ld"/>
<path d="M285.0 412.5L289.7 411.6L289.2 414.7Z" class="ah"/>
<path d="M355.8 436.8L305.4 444.8" class="ld"/>
<path d="M301.0 445.5L305.2 443.2L305.7 446.4Z" class="ah"/>
<path d="M487.5 345.5L480.3 308.2" class="ld"/>
<path d="M479.5 303.8L481.9 307.9L478.8 308.5Z" class="ah"/>
<path d="M513.8 358.0L507.1 323.2" class="ld"/>
<path d="M506.2 318.8L508.7 322.9L505.5 323.5Z" class="ah"/>
<path d="M459.0 361.5L432.9 330.4" class="ld"/>
<path d="M430.0 327.0L434.1 329.4L431.7 331.5Z" class="ah"/>
<path d="M435.0 376.0L406.2 347.2" class="ld"/>
<path d="M403.0 344.0L407.3 346.1L405.1 348.3Z" class="ah"/>
<path d="M435.0 376.0L416.7 342.4" class="ld"/>
<path d="M414.5 338.5L418.1 341.7L415.3 343.2Z" class="ah"/>
<path d="M399.5 371.0L395.3 357.3" class="ld"/>
<path d="M394.0 353.0L396.8 356.8L393.8 357.8Z" class="ah"/>
<path d="M405.0 400.5L342.8 381.8" class="ld"/>
<path d="M338.5 380.5L343.3 380.3L342.3 383.3Z" class="ah"/>
<path d="M405.5 400.0L365.8 374.9" class="ld"/>
<path d="M362.0 372.5L366.7 373.6L364.9 376.3Z" class="ah"/>
<path d="M188.8 516.2L177.1 505.5" class="ld"/>
<path d="M173.8 502.5L178.1 504.4L176.0 506.7Z" class="ah"/>
<path d="M163.8 528.0L143.9 501.1" class="ld"/>
<path d="M141.2 497.5L145.2 500.2L142.6 502.1Z" class="ah"/>
<path d="M163.8 528.0L131.2 506.3" class="ld"/>
<path d="M127.5 503.8L132.1 504.9L130.4 507.6Z" class="ah"/>
<path d="M267.3 502.0L256.0 490.9" class="ld"/>
<path d="M252.8 487.8L257.1 489.8L254.9 492.1Z" class="ah"/>
<path d="M312.5 471.5L263.2 460.9" class="ld"/>
<path d="M258.8 460.0L263.5 459.4L262.8 462.5Z" class="ah"/>
<path d="M290.5 485.0L267.8 474.4" class="ld"/>
<path d="M263.8 472.5L268.5 473.0L267.1 475.9Z" class="ah"/>
<path d="M184.0 177.6L177.9 195.1" class="ld"/>
<path d="M176.4 199.3L176.4 194.5L179.4 195.6Z" class="ah"/>
<path d="M187.5 177.6L194.0 207.0" class="ld"/>
<path d="M195.0 211.4L192.5 207.4L195.6 206.7Z" class="ah"/>
<path d="M235.5 206.2L224.5 222.3" class="ld"/>
<path d="M222.0 226.0L223.2 221.4L225.9 223.2Z" class="ah"/>
<path d="M238.6 206.2L238.4 234.5" class="ld"/>
<path d="M238.4 239.0L236.8 234.5L240.0 234.5Z" class="ah"/>
<path d="M148.0 241.0L155.8 220.6" class="ld"/>
<path d="M157.4 216.4L157.3 221.2L154.3 220.0Z" class="ah"/>
<path d="M149.0 243.0L172.8 225.7" class="ld"/>
<path d="M176.4 223.1L173.7 227.0L171.8 224.4Z" class="ah"/>
<path d="M149.5 245.0L192.0 235.3" class="ld"/>
<path d="M196.4 234.3L192.4 236.9L191.7 233.7Z" class="ah"/>
<path d="M149.5 246.5L213.5 246.0" class="ld"/>
<path d="M218.0 246.0L213.5 247.6L213.5 244.4Z" class="ah"/>
<path d="M175.5 261.0L238.5 256.8" class="ld"/>
<path d="M243.0 256.5L238.6 258.4L238.4 255.2Z" class="ah"/>
<path d="M201.5 275.5L257.7 291.7" class="ld"/>
<path d="M262.0 293.0L257.2 293.3L258.1 290.2Z" class="ah"/>
<path d="M211.2 193.0L211.1 203.5" class="ld"/>
<path d="M211.0 208.0L209.5 203.5L212.7 203.5Z" class="ah"/>
<path d="M181 177.4L189.5 177.4" class="ld"/>
<path d="M233 206L241.5 206" class="ld"/>
<path d="M477 191.2L484 191.2" class="ld"/>
<path d="M543.5 259.2L551.5 259.2" class="ld"/>
<path d="M432 376.5L440 376.5" class="ld"/>
<path d="M219.5 342.3L227.5 342.3" class="ld"/>
<path d="M290 237L298 237" class="ld"/>
<path d="M500 176.2L507.5 176.2" class="ld"/>
<path d="M524 164L531 164" class="ld"/>
<path d="M454 206.5L461 206.5" class="ld"/>
<path d="M510 358.2L518 358.2" class="ld"/>
<path d="M484 345.8L491 345.8" class="ld"/>
<path d="M389 200L396 200" class="ld"/>
<path d="M364 186.3L371 186.3" class="ld"/>
<path d="M339 172.4L346.5 172.4" class="ld"/>
<path d="M567 244.3L575 244.3" class="ld"/>
</g>
<g id="labels">
<g transform="translate(433 210.0)"><path d="M-4.18 -7.95A8.9 9.0 0 0 1 4.18 -7.95M-7.71 4.50A8.9 9.0 0 0 1 -7.71 -4.50M7.71 -4.50A8.9 9.0 0 0 1 7.71 4.50" class="lcd"/><path d="M3.04 8.46A8.9 9.0 0 0 1 -3.04 8.46" class="lc"/><text y="6.2" textLength="7.5" lengthAdjust="spacingAndGlyphs" class="lt">1</text></g>
<g transform="translate(457 197.5)"><path d="M-4.18 -7.95A8.9 9.0 0 0 1 4.18 -7.95M-7.71 4.50A8.9 9.0 0 0 1 -7.71 -4.50M7.71 -4.50A8.9 9.0 0 0 1 7.71 4.50" class="lcd"/><path d="M3.04 8.46A8.9 9.0 0 0 1 -3.04 8.46" class="lc"/><text y="6.2" textLength="7.5" lengthAdjust="spacingAndGlyphs" class="lt">2</text></g>
<g transform="translate(480 182.2)"><path d="M-4.18 -7.95A8.9 9.0 0 0 1 4.18 -7.95M-7.71 4.50A8.9 9.0 0 0 1 -7.71 -4.50M7.71 -4.50A8.9 9.0 0 0 1 7.71 4.50" class="lcd"/><path d="M3.04 8.46A8.9 9.0 0 0 1 -3.04 8.46" class="lc"/><text y="6.2" textLength="7.5" lengthAdjust="spacingAndGlyphs" class="lt">3</text></g>
<g transform="translate(503.75 167.0)"><path d="M-4.18 -7.95A8.9 9.0 0 0 1 4.18 -7.95M-7.71 4.50A8.9 9.0 0 0 1 -7.71 -4.50M7.71 -4.50A8.9 9.0 0 0 1 7.71 4.50" class="lcd"/><path d="M3.04 8.46A8.9 9.0 0 0 1 -3.04 8.46" class="lc"/><text y="6.2" textLength="7.5" lengthAdjust="spacingAndGlyphs" class="lt">4</text></g>
<g transform="translate(528 155.0)"><path d="M-4.18 -7.95A8.9 9.0 0 0 1 4.18 -7.95M-7.71 4.50A8.9 9.0 0 0 1 -7.71 -4.50M7.71 -4.50A8.9 9.0 0 0 1 7.71 4.50" class="lcd"/><path d="M3.04 8.46A8.9 9.0 0 0 1 -3.04 8.46" class="lc"/><text y="6.2" textLength="7.5" lengthAdjust="spacingAndGlyphs" class="lt">5</text></g>
<g transform="translate(547.5 267.5)"><path d="M-4.18 -7.95A8.9 9.0 0 0 1 4.18 -7.95M-7.71 4.50A8.9 9.0 0 0 1 -7.71 -4.50M7.71 -4.50A8.9 9.0 0 0 1 7.71 4.50" class="lcd"/><path d="M3.04 8.46A8.9 9.0 0 0 1 -3.04 8.46" class="lc"/><text y="6.2" textLength="7.5" lengthAdjust="spacingAndGlyphs" class="lt">6</text></g>
<g transform="translate(572.5 251.5)"><path d="M-4.18 -7.95A8.9 9.0 0 0 1 4.18 -7.95M-7.71 4.50A8.9 9.0 0 0 1 -7.71 -4.50M7.71 -4.50A8.9 9.0 0 0 1 7.71 4.50" class="lcd"/><path d="M3.04 8.46A8.9 9.0 0 0 1 -3.04 8.46" class="lc"/><text y="6.2" textLength="7.5" lengthAdjust="spacingAndGlyphs" class="lt">7</text></g>
<g transform="translate(597 234.5)"><path d="M-4.18 -7.95A8.9 9.0 0 0 1 4.18 -7.95M-7.71 4.50A8.9 9.0 0 0 1 -7.71 -4.50M7.71 -4.50A8.9 9.0 0 0 1 7.71 4.50" class="lcd"/><path d="M3.04 8.46A8.9 9.0 0 0 1 -3.04 8.46" class="lc"/><text y="6.2" textLength="7.5" lengthAdjust="spacingAndGlyphs" class="lt">8</text></g>
<g transform="translate(392.5 190.75)"><path d="M-4.18 -7.95A8.9 9.0 0 0 1 4.18 -7.95M-7.71 4.50A8.9 9.0 0 0 1 -7.71 -4.50M7.71 -4.50A8.9 9.0 0 0 1 7.71 4.50" class="lcd"/><path d="M3.04 8.46A8.9 9.0 0 0 1 -3.04 8.46" class="lc"/><text y="6.2" textLength="7.5" lengthAdjust="spacingAndGlyphs" class="lt">9</text></g>
<g transform="translate(521.5 284.5)"><path d="M-4.18 -7.95A8.9 9.0 0 0 1 4.18 -7.95M-7.71 4.50A8.9 9.0 0 0 1 -7.71 -4.50M7.71 -4.50A8.9 9.0 0 0 1 7.71 4.50" class="lcd"/><path d="M3.04 8.46A8.9 9.0 0 0 1 -3.04 8.46" class="lc"/><text y="6.2" textLength="7.5" lengthAdjust="spacingAndGlyphs" class="lt">9</text></g>
<g transform="translate(367.5 177.0)"><path d="M-6.43 -5.72A8.4 8.9 0 0 1 5.94 -6.29M-6.88 5.10A8.4 8.9 0 0 1 -6.88 -5.10M7.67 -3.62A8.4 8.9 0 0 1 7.67 3.62" class="lcd"/><path d="M3.15 8.25A8.4 8.9 0 0 1 -3.15 8.25M-6.88 -5.10A8.4 8.9 0 0 1 -5.94 -6.29" class="lc"/><text y="6.2" textLength="14.2" lengthAdjust="spacingAndGlyphs" class="lt">10</text></g>
<g transform="translate(488 354.0)"><path d="M-6.43 -5.72A8.4 8.9 0 0 1 5.94 -6.29M-6.88 5.10A8.4 8.9 0 0 1 -6.88 -5.10M7.67 -3.62A8.4 8.9 0 0 1 7.67 3.62" class="lcd"/><path d="M3.15 8.25A8.4 8.9 0 0 1 -3.15 8.25M-6.88 -5.10A8.4 8.9 0 0 1 -5.94 -6.29" class="lc"/><text y="6.2" textLength="14.2" lengthAdjust="spacingAndGlyphs" class="lt">10</text></g>
<g transform="translate(513.75 366.5)"><path d="M-6.43 -5.72A8.4 8.9 0 0 1 5.94 -6.29M-6.88 5.10A8.4 8.9 0 0 1 -6.88 -5.10M7.67 -3.62A8.4 8.9 0 0 1 7.67 3.62" class="lcd"/><path d="M3.15 8.25A8.4 8.9 0 0 1 -3.15 8.25M-6.88 -5.10A8.4 8.9 0 0 1 -5.94 -6.29" class="lc"/><text y="6.2" textLength="14.2" lengthAdjust="spacingAndGlyphs" class="lt">11</text></g>
<g transform="translate(464 368.0)"><path d="M-6.43 -5.72A8.4 8.9 0 0 1 5.94 -6.29M-6.88 5.10A8.4 8.9 0 0 1 -6.88 -5.10M7.67 -3.62A8.4 8.9 0 0 1 7.67 3.62" class="lcd"/><path d="M3.15 8.25A8.4 8.9 0 0 1 -3.15 8.25M-6.88 -5.10A8.4 8.9 0 0 1 -5.94 -6.29" class="lc"/><text y="6.2" textLength="14.2" lengthAdjust="spacingAndGlyphs" class="lt">12</text></g>
<g transform="translate(439.5 383.5)"><path d="M-6.43 -5.72A8.4 8.9 0 0 1 5.94 -6.29M-6.88 5.10A8.4 8.9 0 0 1 -6.88 -5.10M7.67 -3.62A8.4 8.9 0 0 1 7.67 3.62" class="lcd"/><path d="M3.15 8.25A8.4 8.9 0 0 1 -3.15 8.25M-6.88 -5.10A8.4 8.9 0 0 1 -5.94 -6.29" class="lc"/><text y="6.2" textLength="14.2" lengthAdjust="spacingAndGlyphs" class="lt">13</text></g>
<g transform="translate(411 405.0)"><path d="M-6.43 -5.72A8.4 8.9 0 0 1 5.94 -6.29M-6.88 5.10A8.4 8.9 0 0 1 -6.88 -5.10M7.67 -3.62A8.4 8.9 0 0 1 7.67 3.62" class="lcd"/><path d="M3.15 8.25A8.4 8.9 0 0 1 -3.15 8.25M-6.88 -5.10A8.4 8.9 0 0 1 -5.94 -6.29" class="lc"/><text y="6.2" textLength="14.2" lengthAdjust="spacingAndGlyphs" class="lt">14</text></g>
<g transform="translate(338.3 420.2)"><path d="M-6.43 -5.72A8.4 8.9 0 0 1 5.94 -6.29M-6.88 5.10A8.4 8.9 0 0 1 -6.88 -5.10M7.67 -3.62A8.4 8.9 0 0 1 7.67 3.62" class="lcd"/><path d="M3.15 8.25A8.4 8.9 0 0 1 -3.15 8.25M-6.88 -5.10A8.4 8.9 0 0 1 -5.94 -6.29" class="lc"/><text y="6.2" textLength="14.2" lengthAdjust="spacingAndGlyphs" class="lt">15</text></g>
<g transform="translate(364.2 435.6)"><path d="M-6.43 -5.72A8.4 8.9 0 0 1 5.94 -6.29M-6.88 5.10A8.4 8.9 0 0 1 -6.88 -5.10M7.67 -3.62A8.4 8.9 0 0 1 7.67 3.62" class="lcd"/><path d="M3.15 8.25A8.4 8.9 0 0 1 -3.15 8.25M-6.88 -5.10A8.4 8.9 0 0 1 -5.94 -6.29" class="lc"/><text y="6.2" textLength="14.2" lengthAdjust="spacingAndGlyphs" class="lt">16</text></g>
<g transform="translate(194.5 522.0)"><path d="M-6.43 -5.72A8.4 8.9 0 0 1 5.94 -6.29M-6.88 5.10A8.4 8.9 0 0 1 -6.88 -5.10M7.67 -3.62A8.4 8.9 0 0 1 7.67 3.62" class="lcd"/><path d="M3.15 8.25A8.4 8.9 0 0 1 -3.15 8.25M-6.88 -5.10A8.4 8.9 0 0 1 -5.94 -6.29" class="lc"/><text y="6.2" textLength="14.2" lengthAdjust="spacingAndGlyphs" class="lt">17</text></g>
<g transform="translate(170 535.0)"><path d="M-6.43 -5.72A8.4 8.9 0 0 1 5.94 -6.29M-6.88 5.10A8.4 8.9 0 0 1 -6.88 -5.10M7.67 -3.62A8.4 8.9 0 0 1 7.67 3.62" class="lcd"/><path d="M3.15 8.25A8.4 8.9 0 0 1 -3.15 8.25M-6.88 -5.10A8.4 8.9 0 0 1 -5.94 -6.29" class="lc"/><text y="6.2" textLength="14.2" lengthAdjust="spacingAndGlyphs" class="lt">18</text></g>
<g transform="translate(196.75 363.25)"><path d="M-6.43 -5.72A8.4 8.9 0 0 1 5.94 -6.29M-6.88 5.10A8.4 8.9 0 0 1 -6.88 -5.10M7.67 -3.62A8.4 8.9 0 0 1 7.67 3.62" class="lcd"/><path d="M3.15 8.25A8.4 8.9 0 0 1 -3.15 8.25M-6.88 -5.10A8.4 8.9 0 0 1 -5.94 -6.29" class="lc"/><text y="6.2" textLength="14.2" lengthAdjust="spacingAndGlyphs" class="lt">19</text></g>
<g transform="translate(273.2 509)"><path d="M-6.43 -5.72A8.4 8.9 0 0 1 5.94 -6.29M-6.88 5.10A8.4 8.9 0 0 1 -6.88 -5.10M7.67 -3.62A8.4 8.9 0 0 1 7.67 3.62" class="lcd"/><path d="M3.15 8.25A8.4 8.9 0 0 1 -3.15 8.25M-6.88 -5.10A8.4 8.9 0 0 1 -5.94 -6.29" class="lc"/><text y="6.2" textLength="14.2" lengthAdjust="spacingAndGlyphs" class="lt">20</text></g>
<g transform="translate(297.5 489.0)"><path d="M-6.43 -5.72A8.4 8.9 0 0 1 5.94 -6.29M-6.88 5.10A8.4 8.9 0 0 1 -6.88 -5.10M7.67 -3.62A8.4 8.9 0 0 1 7.67 3.62" class="lcd"/><path d="M3.15 8.25A8.4 8.9 0 0 1 -3.15 8.25M-6.88 -5.10A8.4 8.9 0 0 1 -5.94 -6.29" class="lc"/><text y="6.2" textLength="14.2" lengthAdjust="spacingAndGlyphs" class="lt">21</text></g>
<g transform="translate(320.5 473.25)"><path d="M-6.43 -5.72A8.4 8.9 0 0 1 5.94 -6.29M-6.88 5.10A8.4 8.9 0 0 1 -6.88 -5.10M7.67 -3.62A8.4 8.9 0 0 1 7.67 3.62" class="lcd"/><path d="M3.15 8.25A8.4 8.9 0 0 1 -3.15 8.25M-6.88 -5.10A8.4 8.9 0 0 1 -5.94 -6.29" class="lc"/><text y="6.2" textLength="14.2" lengthAdjust="spacingAndGlyphs" class="lt">22</text></g>
<g transform="translate(220.5 349.5)"><path d="M-6.43 -5.72A8.4 8.9 0 0 1 5.94 -6.29M-6.88 5.10A8.4 8.9 0 0 1 -6.88 -5.10M7.67 -3.62A8.4 8.9 0 0 1 7.67 3.62" class="lcd"/><path d="M3.15 8.25A8.4 8.9 0 0 1 -3.15 8.25M-6.88 -5.10A8.4 8.9 0 0 1 -5.94 -6.29" class="lc"/><text y="6.2" textLength="14.2" lengthAdjust="spacingAndGlyphs" class="lt">23</text></g>
<g transform="translate(245.5 346.0)"><path d="M-6.43 -5.72A8.4 8.9 0 0 1 5.94 -6.29M-6.88 5.10A8.4 8.9 0 0 1 -6.88 -5.10M7.67 -3.62A8.4 8.9 0 0 1 7.67 3.62" class="lcd"/><path d="M3.15 8.25A8.4 8.9 0 0 1 -3.15 8.25M-6.88 -5.10A8.4 8.9 0 0 1 -5.94 -6.29" class="lc"/><text y="6.2" textLength="14.2" lengthAdjust="spacingAndGlyphs" class="lt">24</text></g>
<g transform="translate(367 323.5)"><path d="M-6.43 -5.72A8.4 8.9 0 0 1 5.94 -6.29M-6.88 5.10A8.4 8.9 0 0 1 -6.88 -5.10M7.67 -3.62A8.4 8.9 0 0 1 7.67 3.62" class="lcd"/><path d="M3.15 8.25A8.4 8.9 0 0 1 -3.15 8.25M-6.88 -5.10A8.4 8.9 0 0 1 -5.94 -6.29" class="lc"/><text y="6.2" textLength="14.2" lengthAdjust="spacingAndGlyphs" class="lt">25</text></g>
<g transform="translate(346.2 307.2)"><path d="M-6.43 -5.72A8.4 8.9 0 0 1 5.94 -6.29M-6.88 5.10A8.4 8.9 0 0 1 -6.88 -5.10M7.67 -3.62A8.4 8.9 0 0 1 7.67 3.62" class="lcd"/><path d="M3.15 8.25A8.4 8.9 0 0 1 -3.15 8.25M-6.88 -5.10A8.4 8.9 0 0 1 -5.94 -6.29" class="lc"/><text y="6.2" textLength="14.2" lengthAdjust="spacingAndGlyphs" class="lt">26</text></g>
<g transform="translate(370 268.8)"><path d="M-6.43 -5.72A8.4 8.9 0 0 1 5.94 -6.29M-6.88 5.10A8.4 8.9 0 0 1 -6.88 -5.10M7.67 -3.62A8.4 8.9 0 0 1 7.67 3.62" class="lcd"/><path d="M3.15 8.25A8.4 8.9 0 0 1 -3.15 8.25M-6.88 -5.10A8.4 8.9 0 0 1 -5.94 -6.29" class="lc"/><text y="6.2" textLength="14.2" lengthAdjust="spacingAndGlyphs" class="lt">27</text></g>
<g transform="translate(346 255.4)"><path d="M-6.43 -5.72A8.4 8.9 0 0 1 5.94 -6.29M-6.88 5.10A8.4 8.9 0 0 1 -6.88 -5.10M7.67 -3.62A8.4 8.9 0 0 1 7.67 3.62" class="lcd"/><path d="M3.15 8.25A8.4 8.9 0 0 1 -3.15 8.25M-6.88 -5.10A8.4 8.9 0 0 1 -5.94 -6.29" class="lc"/><text y="6.2" textLength="14.2" lengthAdjust="spacingAndGlyphs" class="lt">28</text></g>
<g transform="translate(318.75 242.0)"><path d="M-6.43 -5.72A8.4 8.9 0 0 1 5.94 -6.29M-6.88 5.10A8.4 8.9 0 0 1 -6.88 -5.10M7.67 -3.62A8.4 8.9 0 0 1 7.67 3.62" class="lcd"/><path d="M3.15 8.25A8.4 8.9 0 0 1 -3.15 8.25M-6.88 -5.10A8.4 8.9 0 0 1 -5.94 -6.29" class="lc"/><text y="6.2" textLength="14.2" lengthAdjust="spacingAndGlyphs" class="lt">29</text></g>
<g transform="translate(293.75 227.5)"><path d="M-6.43 -5.72A8.4 8.9 0 0 1 5.94 -6.29M-6.88 5.10A8.4 8.9 0 0 1 -6.88 -5.10M7.67 -3.62A8.4 8.9 0 0 1 7.67 3.62" class="lcd"/><path d="M3.15 8.25A8.4 8.9 0 0 1 -3.15 8.25M-6.88 -5.10A8.4 8.9 0 0 1 -5.94 -6.29" class="lc"/><text y="6.2" textLength="14.2" lengthAdjust="spacingAndGlyphs" class="lt">30</text></g>
<g transform="translate(192 273.25)"><path d="M-6.43 -5.72A8.4 8.9 0 0 1 5.94 -6.29M-6.88 5.10A8.4 8.9 0 0 1 -6.88 -5.10M7.67 -3.62A8.4 8.9 0 0 1 7.67 3.62" class="lcd"/><path d="M3.15 8.25A8.4 8.9 0 0 1 -3.15 8.25M-6.88 -5.10A8.4 8.9 0 0 1 -5.94 -6.29" class="lc"/><text y="6.2" textLength="14.2" lengthAdjust="spacingAndGlyphs" class="lt">31</text></g>
<g transform="translate(266.25 212.5)"><path d="M-6.43 -5.72A8.4 8.9 0 0 1 5.94 -6.29M-6.88 5.10A8.4 8.9 0 0 1 -6.88 -5.10M7.67 -3.62A8.4 8.9 0 0 1 7.67 3.62" class="lcd"/><path d="M3.15 8.25A8.4 8.9 0 0 1 -3.15 8.25M-6.88 -5.10A8.4 8.9 0 0 1 -5.94 -6.29" class="lc"/><text y="6.2" textLength="14.2" lengthAdjust="spacingAndGlyphs" class="lt">32</text></g>
<g transform="translate(116 320.2)"><path d="M-6.43 -5.72A8.4 8.9 0 0 1 5.94 -6.29M-6.88 5.10A8.4 8.9 0 0 1 -6.88 -5.10M7.67 -3.62A8.4 8.9 0 0 1 7.67 3.62" class="lcd"/><path d="M3.15 8.25A8.4 8.9 0 0 1 -3.15 8.25M-6.88 -5.10A8.4 8.9 0 0 1 -5.94 -6.29" class="lc"/><text y="6.2" textLength="14.2" lengthAdjust="spacingAndGlyphs" class="lt">33</text></g>
<g transform="translate(141.8 304.5)"><path d="M-6.43 -5.72A8.4 8.9 0 0 1 5.94 -6.29M-6.88 5.10A8.4 8.9 0 0 1 -6.88 -5.10M7.67 -3.62A8.4 8.9 0 0 1 7.67 3.62" class="lcd"/><path d="M3.15 8.25A8.4 8.9 0 0 1 -3.15 8.25M-6.88 -5.10A8.4 8.9 0 0 1 -5.94 -6.29" class="lc"/><text y="6.2" textLength="14.2" lengthAdjust="spacingAndGlyphs" class="lt">34</text></g>
<g transform="translate(165.8 291)"><path d="M-6.43 -5.72A8.4 8.9 0 0 1 5.94 -6.29M-6.88 5.10A8.4 8.9 0 0 1 -6.88 -5.10M7.67 -3.62A8.4 8.9 0 0 1 7.67 3.62" class="lcd"/><path d="M3.15 8.25A8.4 8.9 0 0 1 -3.15 8.25M-6.88 -5.10A8.4 8.9 0 0 1 -5.94 -6.29" class="lc"/><text y="6.2" textLength="14.2" lengthAdjust="spacingAndGlyphs" class="lt">35</text></g>
<g transform="translate(166.25 260.25)"><path d="M-6.43 -5.72A8.4 8.9 0 0 1 5.94 -6.29M-6.88 5.10A8.4 8.9 0 0 1 -6.88 -5.10M7.67 -3.62A8.4 8.9 0 0 1 7.67 3.62" class="lcd"/><path d="M3.15 8.25A8.4 8.9 0 0 1 -3.15 8.25M-6.88 -5.10A8.4 8.9 0 0 1 -5.94 -6.29" class="lc"/><text y="6.2" textLength="14.2" lengthAdjust="spacingAndGlyphs" class="lt">36</text></g>
<g transform="translate(185.75 168.0)"><path d="M-6.43 -5.72A8.4 8.9 0 0 1 5.94 -6.29M-6.88 5.10A8.4 8.9 0 0 1 -6.88 -5.10M7.67 -3.62A8.4 8.9 0 0 1 7.67 3.62" class="lcd"/><path d="M3.15 8.25A8.4 8.9 0 0 1 -3.15 8.25M-6.88 -5.10A8.4 8.9 0 0 1 -5.94 -6.29" class="lc"/><text y="6.2" textLength="14.2" lengthAdjust="spacingAndGlyphs" class="lt">37</text></g>
<g transform="translate(237.25 196.5)"><path d="M-6.43 -5.72A8.4 8.9 0 0 1 5.94 -6.29M-6.88 5.10A8.4 8.9 0 0 1 -6.88 -5.10M7.67 -3.62A8.4 8.9 0 0 1 7.67 3.62" class="lcd"/><path d="M3.15 8.25A8.4 8.9 0 0 1 -3.15 8.25M-6.88 -5.10A8.4 8.9 0 0 1 -5.94 -6.29" class="lc"/><text y="6.2" textLength="14.2" lengthAdjust="spacingAndGlyphs" class="lt">37</text></g>
<g transform="translate(140 244.5)"><path d="M-6.43 -5.72A8.4 8.9 0 0 1 5.94 -6.29M-6.88 5.10A8.4 8.9 0 0 1 -6.88 -5.10M7.67 -3.62A8.4 8.9 0 0 1 7.67 3.62" class="lcd"/><path d="M3.15 8.25A8.4 8.9 0 0 1 -3.15 8.25M-6.88 -5.10A8.4 8.9 0 0 1 -5.94 -6.29" class="lc"/><text y="6.2" textLength="14.2" lengthAdjust="spacingAndGlyphs" class="lt">38</text></g>
<g transform="translate(211.25 183.25)"><path d="M-6.43 -5.72A8.4 8.9 0 0 1 5.94 -6.29M-6.88 5.10A8.4 8.9 0 0 1 -6.88 -5.10M7.67 -3.62A8.4 8.9 0 0 1 7.67 3.62" class="lcd"/><path d="M3.15 8.25A8.4 8.9 0 0 1 -3.15 8.25M-6.88 -5.10A8.4 8.9 0 0 1 -5.94 -6.29" class="lc"/><text y="6.2" textLength="14.2" lengthAdjust="spacingAndGlyphs" class="lt">39</text></g>
<g transform="translate(342.5 163.25)"><path d="M-6.43 -5.72A8.4 8.9 0 0 1 5.94 -6.29M-6.88 5.10A8.4 8.9 0 0 1 -6.88 -5.10M7.67 -3.62A8.4 8.9 0 0 1 7.67 3.62" class="lcd"/><path d="M3.15 8.25A8.4 8.9 0 0 1 -3.15 8.25M-6.88 -5.10A8.4 8.9 0 0 1 -5.94 -6.29" class="lc"/><text y="6.2" textLength="14.2" lengthAdjust="spacingAndGlyphs" class="lt">40</text></g>
<g transform="translate(311.1 401.8)"><path d="M-6.43 -5.72A8.4 8.9 0 0 1 5.94 -6.29M-6.88 5.10A8.4 8.9 0 0 1 -6.88 -5.10M7.67 -3.62A8.4 8.9 0 0 1 7.67 3.62" class="lcd"/><path d="M3.15 8.25A8.4 8.9 0 0 1 -3.15 8.25M-6.88 -5.10A8.4 8.9 0 0 1 -5.94 -6.29" class="lc"/><text y="6.2" textLength="14.2" lengthAdjust="spacingAndGlyphs" class="lt">41</text></g>
<g transform="translate(402 379.0)"><path d="M-6.43 -5.72A8.4 8.9 0 0 1 5.94 -6.29M-6.88 5.10A8.4 8.9 0 0 1 -6.88 -5.10M7.67 -3.62A8.4 8.9 0 0 1 7.67 3.62" class="lcd"/><path d="M3.15 8.25A8.4 8.9 0 0 1 -3.15 8.25M-6.88 -5.10A8.4 8.9 0 0 1 -5.94 -6.29" class="lc"/><text y="6.2" textLength="14.2" lengthAdjust="spacingAndGlyphs" class="lt">42</text></g>
</g>
<text x="579.75" y="158.1" textLength="52.5" lengthAdjust="spacingAndGlyphs" class="hd">1Y05-001</text>
<text x="580.5" y="170.1" textLength="44" lengthAdjust="spacingAndGlyphs" class="hd">082790</text>
<g id="icon">
<rect x="589.6" y="530.3" width="19" height="22.8" rx="1.5" fill="#e4e4e4" stroke="#5a5a5a" stroke-width="1.7"/>
<rect x="591.6" y="532.2" width="15" height="19" rx="1.5" fill="#222"/>
<ellipse cx="599" cy="535.4" rx="5.6" ry="1.7" fill="#fff"/>
<rect x="594" y="539.6" width="10.4" height="10" fill="#eee"/>
<path d="M595 541.5h8M595 544h3v4M600 546h3.5M600 548.5h3.5M599 541v8" stroke="#333" stroke-width="1" fill="none"/>
</g>
</svg>
</body></html>
